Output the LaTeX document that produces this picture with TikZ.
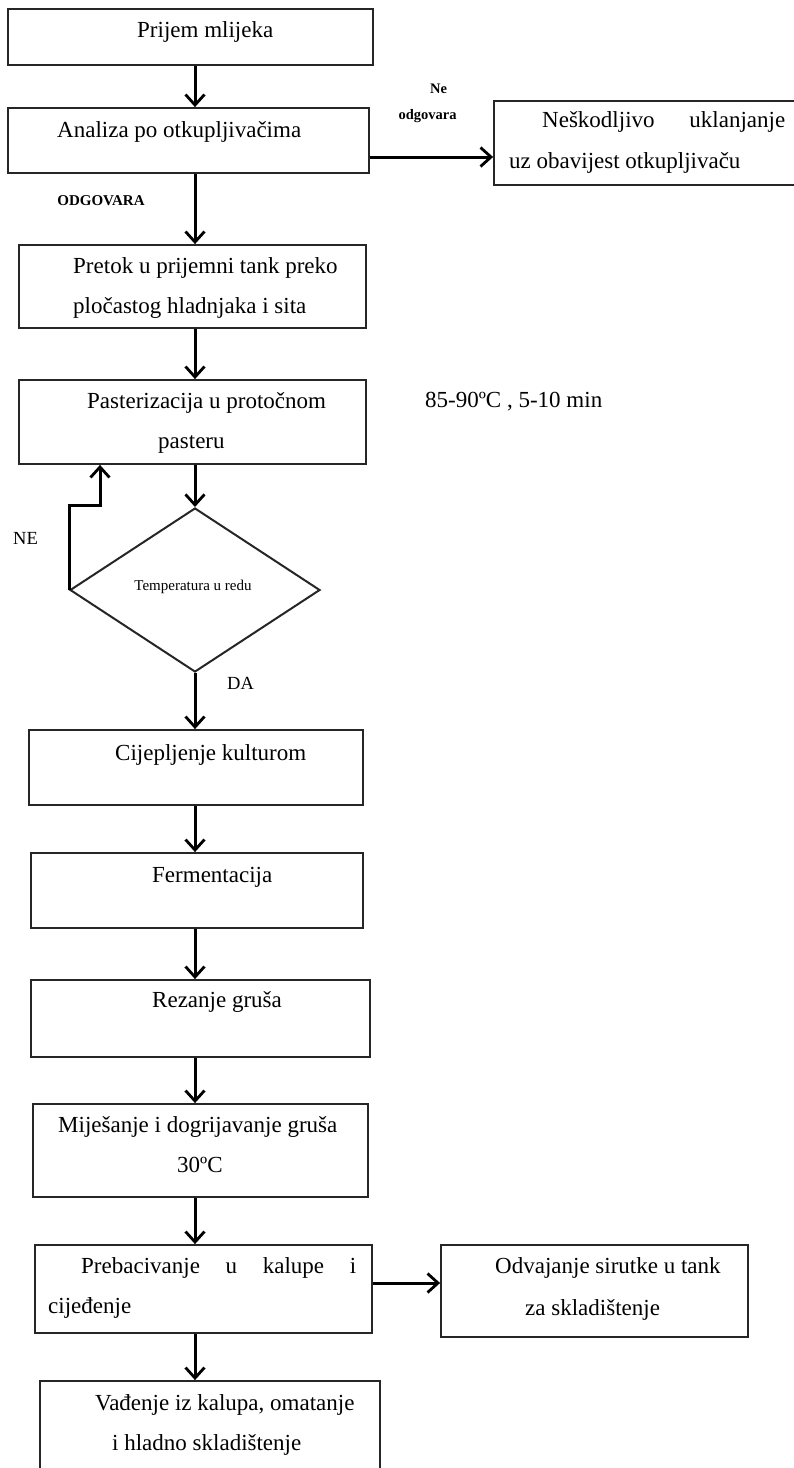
\documentclass[tikz,border=0pt]{standalone}
\usepackage{fontspec}
\setmainfont{Liberation Serif}
\usetikzlibrary{arrows.meta,shapes.geometric}
\begin{document}
\begin{tikzpicture}[x=1pt,y=-1pt,
  box/.style={draw=black!85, line width=1.8pt, inner sep=0pt, rectangle},
  dec/.style={draw=black!85, line width=2pt, inner sep=0pt, diamond},
  arr/.style={line width=3pt, -{Straight Barb[length=10.5pt,width=19pt,line width=2.8pt]}},
  txt/.style={font=\fontsize{23}{27}\selectfont, anchor=base west, inner sep=0pt},
  lbl/.style={font=\bfseries\fontsize{15}{18}\selectfont, anchor=base, inner sep=0pt},
  small/.style={font=\fontsize{15}{18}\selectfont, anchor=base, inner sep=0pt}
]
\useasboundingbox (0,0) rectangle (794,1468);
\clip (0,0) rectangle (794,1468);

% boxes
\node[box, minimum width=365pt, minimum height=56pt] (b1) at (190.5,37) {};
\node[box, minimum width=361pt, minimum height=65pt] (b2) at (188.5,140.5) {};
\node[box, minimum width=306pt, minimum height=84pt] (bN) at (647,143) {};
\node[box, minimum width=347pt, minimum height=83pt] (b3) at (192.5,286.5) {};
\node[box, minimum width=347pt, minimum height=84pt] (b4) at (192.5,422) {};
\node[dec, minimum width=250pt, minimum height=164pt] (dia) at (195,590) {};
\node[box, minimum width=334pt, minimum height=75pt] (b5) at (196,767.5) {};
\node[box, minimum width=332pt, minimum height=75pt] (b6) at (197,890.5) {};
\node[box, minimum width=339pt, minimum height=77pt] (b7) at (200.5,1018.5) {};
\node[box, minimum width=335pt, minimum height=93pt] (b8) at (200.5,1150.5) {};
\node[box, minimum width=337pt, minimum height=88pt] (b9) at (203.5,1289) {};
\node[box, minimum width=307pt, minimum height=92pt] (b10) at (594.5,1291) {};
\node[box, minimum width=340pt, minimum height=119pt] (b11) at (210,1440.5) {};

% texts
\node[txt] (t1) at (137,37) {Prijem mlijeka};
\node[txt] (t2) at (57,137) {Analiza po otkupljivačima};
\node[lbl] (tOdg) at (101,205) {ODGOVARA};
\node[lbl, font=\bfseries\fontsize{14.5}{17}\selectfont] (tNe) at (438.5,93) {Ne};
\node[lbl, font=\bfseries\fontsize{14.5}{17}\selectfont] (tNeOdg) at (427.5,119) {odgovara};
\node[txt] (tN1) at (542,127) {\makebox[243pt][s]{Neškodljivo uklanjanje}};
\node[txt] (tN2) at (509,168) {uz obavijest otkupljivaču};
\node[txt] (t3a) at (73,273) {Pretok u prijemni tank preko};
\node[txt] (t3b) at (73,313) {pločastog hladnjaka i sita};
\node[txt] (t4a) at (87,408) {Pasterizacija u protočnom};
\node[txt] (t4b) at (158,448) {pasteru};
\node[txt] (tTemp) at (425,407) {85-90ºC , 5-10 min};
\node[small] (tDia) at (193,590) {Temperatura u redu};
\node[txt, font=\fontsize{18.5}{22}\selectfont] (tNE) at (13,544) {NE};
\node[txt, font=\fontsize{18.5}{22}\selectfont] (tDA) at (227,689) {DA};
\node[txt] (t5) at (115,760) {Cijepljenje kulturom};
\node[txt] (t6) at (152,882) {Fermentacija};
\node[txt] (t7) at (152,1007) {Rezanje gruša};
\node[txt] (t8a) at (58,1132) {Miješanje i dogrijavanje gruša};
\node[txt] (t8b) at (177,1172) {30ºC};
\node[txt] (t9a) at (81,1273) {\makebox[275pt][s]{Prebacivanje u kalupe i}};
\node[txt] (t9b) at (48,1313) {cijeđenje};
\node[txt] (t10a) at (495,1273) {Odvajanje sirutke u tank};
\node[txt] (t10b) at (525,1315) {za skladištenje};
\node[txt] (t11a) at (95,1410) {Vađenje iz kalupa, omatanje};
\node[txt] (t11b) at (112,1450) {i hladno skladištenje};

% connectors
\draw[arr] (b1.south -| dia.center) -- (b2.north -| dia.center);
\draw[arr] (b2.south -| dia.center) -- (b3.north -| dia.center);
\draw[arr] (b3.south -| dia.center) -- (b4.north -| dia.center);
\draw[arr] (b4.south -| dia.center) -- (dia.north);
\draw[arr] (dia.south) -- (b5.north -| dia.center);
\draw[arr] (b5.south -| dia.center) -- (b6.north -| dia.center);
\draw[arr] (b6.south -| dia.center) -- (b7.north -| dia.center);
\draw[arr] (b7.south -| dia.center) -- (b8.north -| dia.center);
\draw[arr] (b8.south -| dia.center) -- (b9.north -| dia.center);
\draw[arr] (b9.south -| dia.center) -- (b11.north -| dia.center);

\coordinate (e2) at ([yshift=-16.5pt]b2.east);
\draw[arr] (e2) -- (e2 -| bN.west);
\coordinate (e9) at ([yshift=6pt]b9.east);
\draw[arr] (e9) -- (e9 -| b10.west);

\coordinate (ne) at (100,505);
\draw[arr] (dia.west) |- (ne) -- (ne |- b4.south);
\end{tikzpicture}
\end{document}
